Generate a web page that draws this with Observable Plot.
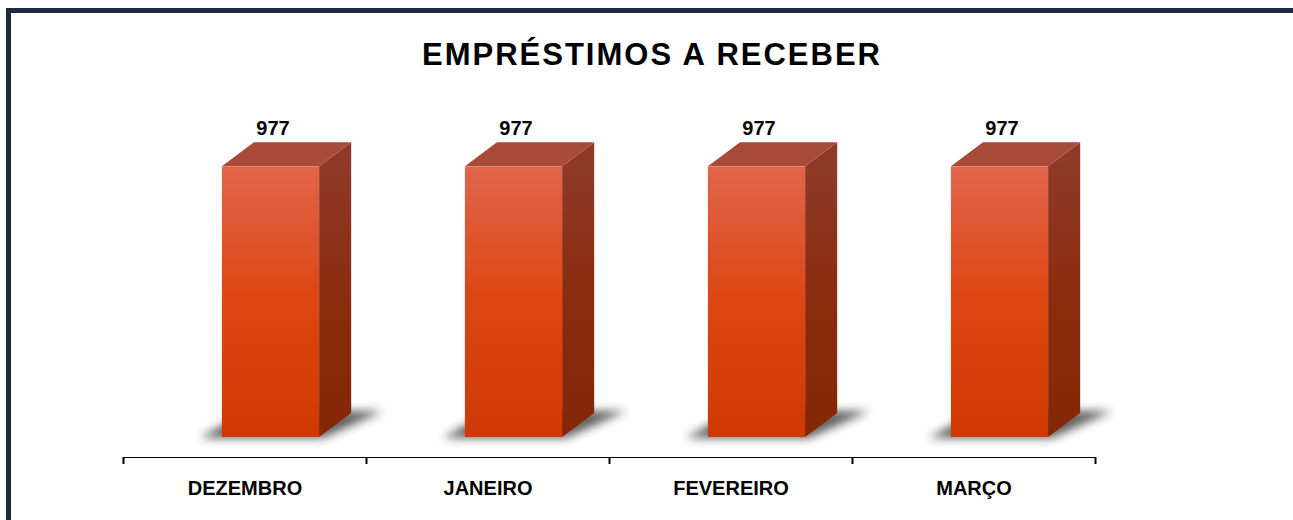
<!DOCTYPE html>
<html>
<head>
<meta charset="utf-8">
<script src="https://cdn.jsdelivr.net/npm/d3@7"></script>
<script src="https://cdn.jsdelivr.net/npm/@observablehq/plot@0.6"></script>
<style>
  body { margin: 0; background: #fff; }
  #wrap { position: relative; width: 1293px; height: 520px; overflow: hidden; background: #fff;
          font-family: "Liberation Sans", Arial, sans-serif; }
  #frame { position: absolute; left: 6px; top: 8px; width: 1400px; height: 600px;
           border-top: 5px solid #1b2a3e; border-left: 5px solid #1b2a3e; }
  #title { position: absolute; left: 0; width: 1304px; top: 39px; text-align: center;
           font-size: 31px; line-height: 31px; font-weight: bold; letter-spacing: 2px; color: #000; }
  #chart { position: absolute; left: 0; top: 80px; }
  #chart svg g[aria-label*="axis"] path,
  #chart svg g[aria-label*="axis"] line { stroke: #000 !important; stroke-width: 2px !important; }
</style>
</head>
<body>
<div id="wrap">
  <div id="frame"></div>
  <div id="title">EMPRÉSTIMOS A RECEBER</div>
  <div id="chart"></div>
</div>
<script>
// ---- data ----
const months = ["DEZEMBRO", "JANEIRO", "FEVEREIRO", "MARÇO"];
const values = [977, 977, 977, 977];
const title = "EMPRÉSTIMOS A RECEBER";

// ---- layout constants ----
const W = 1293, H = 440;
const mL = 123, mR = 198, mT = 80, mB = 63;
const band = (W - mL - mR) / months.length;   // px per category
const halfW = band * 0.2;                      // half of bar front width
const depth = band * 0.132;                    // 3D depth (x)
const rise = depth * 0.75;                     // 3D depth (y)
const shift = band * 0.107;                    // floor perspective shift

document.getElementById("title").textContent = title;

// custom 3D cube mark drawn through Plot's scales
function cubes(index, scales) {
  const x = scales.x, y = scales.y;
  const g = d3.create("svg:g").attr("aria-label", "cubes");
  const defs = g.append("defs");
  const grad = (id, stops) => {
    const lg = defs.append("linearGradient").attr("id", id)
      .attr("x1", 0).attr("y1", 0).attr("x2", 0).attr("y2", 1);
    stops.forEach(([o, c]) => lg.append("stop").attr("offset", o).attr("stop-color", c));
  };
  grad("gFront", [[0, "#e0654b"], [0.5, "#dd4512"], [1, "#cf3904"]]);
  grad("gSide", [[0, "#8f3b2b"], [0.5, "#8a2d10"], [1, "#832705"]]);
  const f = defs.append("filter").attr("id", "blurShadow")
    .attr("x", "-50%").attr("y", "-50%").attr("width", "200%").attr("height", "200%");
  f.append("feGaussianBlur").attr("stdDeviation", 5);

  const pts = a => a.map(p => p.join(",")).join(" ");
  values.forEach((v, i) => {
    const cx = x(i + 0.5) + shift;
    const xL = cx - halfW, xR = cx + halfW;
    const y0 = y(0), yt = y(v);
    // shadow
    g.append("polygon")
      .attr("points", pts([[xL - 22, y0 + 1], [xR + 4, y0 + 1], [xR + depth + 32, y0 - rise - 2], [xL + depth - 6, y0 - rise - 2]]))
      .attr("fill", "#2a2a2a").attr("opacity", 0.75).attr("filter", "url(#blurShadow)");
    // side
    g.append("polygon")
      .attr("points", pts([[xR, yt], [xR + depth, yt - rise], [xR + depth, y0 - rise], [xR, y0]]))
      .attr("fill", "url(#gSide)");
    // top
    g.append("polygon")
      .attr("points", pts([[xL, yt], [xR, yt], [xR + depth, yt - rise], [xL + depth, yt - rise]]))
      .attr("fill", "#a84a38");
    // front
    g.append("rect")
      .attr("x", xL).attr("y", yt).attr("width", xR - xL).attr("height", y0 - yt)
      .attr("fill", "url(#gFront)");
  });
  return g.node();
}

const chart = Plot.plot({
  width: W, height: H,
  marginLeft: mL, marginRight: mR, marginTop: mT, marginBottom: mB,
  style: { fontFamily: "'Liberation Sans', Arial, sans-serif", background: "transparent", overflow: "visible", color: "#000" },
  x: { domain: [0, months.length], ticks: months.length, tickFormat: () => "", tickSize: 7, line: true, label: null },
  y: { domain: [0, 1000], insetBottom: 20, axis: null },
  marks: [
    cubes,
    Plot.text(values, {
      x: (d, i) => i + 0.5, y: d => d, text: d => String(d),
      dx: shift + 2, dy: -38, fontSize: 20, fontWeight: "bold", fill: "#000"
    }),
    Plot.text(months, {
      x: (d, i) => i + 0.5, frameAnchor: "bottom", text: d => d,
      dy: 37, fontSize: 20, fontWeight: "bold", fill: "#000"
    })
  ]
});
document.getElementById("chart").appendChild(chart);
</script>
</body>
</html>
